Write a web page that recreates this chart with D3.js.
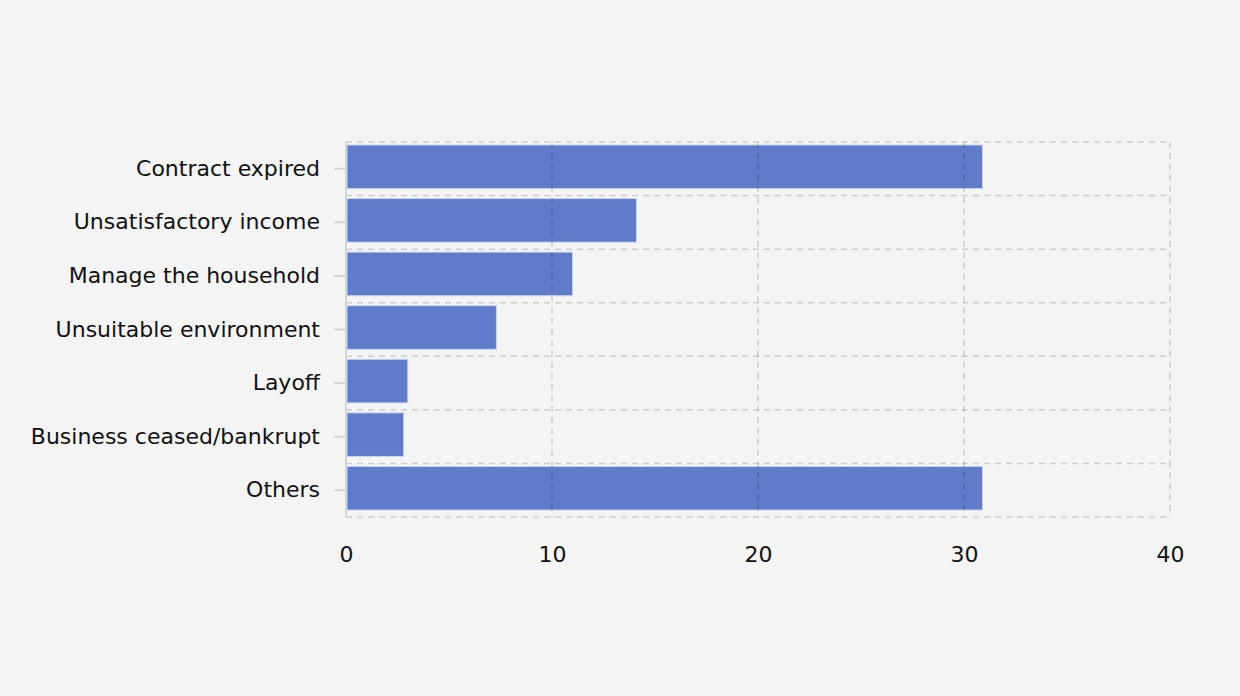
<!DOCTYPE html>
<html>
<head>
<meta charset="utf-8">
<script src="https://cdn.jsdelivr.net/npm/d3@7"></script>
<style>
  html, body { margin: 0; padding: 0; background: #f4f4f4; }
  svg { display: block; }
  text { font-family: "DejaVu Sans", Verdana, sans-serif; }
</style>
</head>
<body>
<svg id="chart" width="1240" height="696"></svg>
<script>
const categories = ["Contract expired", "Unsatisfactory income", "Manage the household", "Unsuitable environment", "Layoff", "Business ceased/bankrupt", "Others"];
const values = [30.9, 14.1, 11.0, 7.3, 3.0, 2.8, 30.9];
const xTicks = [0, 10, 20, 30, 40];

(function () {
const svg = d3.select("#chart");
const W = 1240, H = 696;
svg.append("rect").attr("width", W).attr("height", H).attr("fill", "#f4f4f4");

const mLeft = 346, mRight = 1170, mTop = 142, mBottom = 517;

const x = d3.scaleLinear().domain([0, 40]).range([mLeft, mRight]);
const yb = d3.scaleBand().domain(categories).range([mTop, mBottom]);

const gridColor = "#cecece";

// horizontal grid lines at band boundaries
const hLines = categories.map(c => yb(c)).concat([mBottom]);
svg.append("g").selectAll("line").data(hLines).join("line")
  .attr("x1", mLeft).attr("x2", mRight)
  .attr("y1", d => d).attr("y2", d => d)
  .attr("stroke", gridColor).attr("stroke-width", 1.5).attr("stroke-dasharray", "6,5");

// bars
svg.append("g").selectAll("rect").data(values).join("rect")
  .attr("x", x(0) + 1)
  .attr("y", (d, i) => yb(categories[i]) + 3)
  .attr("width", d => x(d) - x(0) - 1)
  .attr("height", yb.bandwidth() - 10)
  .attr("fill", "#5f7bc9")
  .attr("stroke", "#c9d3ef").attr("stroke-width", 1);

// vertical grid lines (drawn over bars, semi-transparent)
svg.append("g").selectAll("line").data(xTicks.slice(1)).join("line")
  .attr("x1", d => x(d)).attr("x2", d => x(d))
  .attr("y1", mTop).attr("y2", mBottom)
  .attr("stroke", "rgba(0,0,0,0.16)").attr("stroke-width", 1.5).attr("stroke-dasharray", "6,5");

// y axis line
svg.append("line").attr("x1", mLeft).attr("x2", mLeft).attr("y1", mTop).attr("y2", mBottom)
  .attr("stroke", "#d4d4d4").attr("stroke-width", 2);

// y axis ticks & labels
const yAxis = d3.axisLeft(yb).tickSize(12).tickPadding(14);
const gy = svg.append("g").attr("transform", `translate(${mLeft},0)`).call(yAxis);
gy.select(".domain").remove();
gy.selectAll(".tick line").attr("stroke", "#d4d4d4").attr("stroke-width", 2);
gy.selectAll(".tick text").attr("font-size", 22).attr("fill", "#111").attr("font-family", "DejaVu Sans, Verdana, sans-serif");

// x axis labels
const xAxis = d3.axisBottom(x).tickValues(xTicks).tickSize(0).tickPadding(29);
const gx = svg.append("g").attr("transform", `translate(0,${mBottom})`).call(xAxis);
gx.select(".domain").remove();
gx.selectAll(".tick text").attr("font-size", 22).attr("fill", "#111").attr("font-family", "DejaVu Sans, Verdana, sans-serif");
})();
</script>
</body>
</html>
